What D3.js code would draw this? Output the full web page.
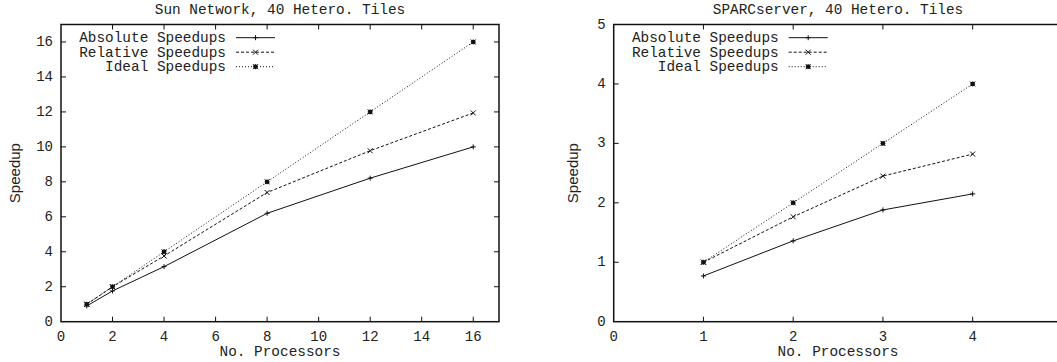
<!DOCTYPE html>
<html>
<head>
<meta charset="utf-8">
<script src="https://cdn.jsdelivr.net/npm/d3@7"></script>
<style>
  html, body { margin: 0; padding: 0; background: #fff; }
  svg { display: block; }
</style>
</head>
<body>
<div id="chart"></div>
<script>
const INK = '#111';
const MONO = '"Liberation Mono", "Courier New", "DejaVu Sans Mono", monospace';

// left panel: Sun Network
const sunProcs = [1, 2, 4, 8, 12, 16];
const sunAbsolute = [0.9, 1.76, 3.15, 6.2, 8.21, 10.0];
const sunRelative = [1.0, 2.0, 3.76, 7.39, 9.78, 11.94];
const sunIdeal = [1, 2, 4, 8, 12, 16];
const sunXTicks = [0, 2, 4, 6, 8, 10, 12, 14, 16];
const sunYTicks = [0, 2, 4, 6, 8, 10, 12, 14, 16];

// right panel: SPARCserver
const sparcProcs = [1, 2, 3, 4];
const sparcAbsolute = [0.77, 1.36, 1.88, 2.15];
const sparcRelative = [1.0, 1.765, 2.45, 2.82];
const sparcIdeal = [1, 2, 3, 4];
const sparcXTicks = [0, 1, 2, 3, 4];
const sparcYTicks = [0, 1, 2, 3, 4, 5];

const seriesNames = ['Absolute Speedups', 'Relative Speedups', 'Ideal Speedups'];
const seriesDash = [null, '3,2', '1,2'];
const seriesMark = ['plus', 'cross', 'star'];

const svg = d3.select('#chart').append('svg')
  .attr('width', 1057)
  .attr('height', 362)
  .style('font-family', MONO);

const drawMark = (g, kind, cx, cy) => {
  const s = 2.5;
  if (kind === 'plus' || kind === 'star') {
    g.append('line').attr('x1', cx - s).attr('x2', cx + s).attr('y1', cy).attr('y2', cy);
    g.append('line').attr('x1', cx).attr('x2', cx).attr('y1', cy - s).attr('y2', cy + s);
  }
  if (kind === 'cross' || kind === 'star') {
    g.append('line').attr('x1', cx - s).attr('x2', cx + s).attr('y1', cy - s).attr('y2', cy + s);
    g.append('line').attr('x1', cx - s).attr('x2', cx + s).attr('y1', cy + s).attr('y2', cy - s);
  }
  if (kind === 'star') {
    g.append('rect').attr('x', cx - 2).attr('y', cy - 2).attr('width', 4).attr('height', 4)
      .attr('fill', INK).attr('stroke', 'none');
  }
};

const addText = (g, txt, size) => g.append('text')
  .style('font-family', MONO)
  .attr('font-size', size)
  .attr('fill', '#222')
  .text(txt);

const drawPanel = (cfg) => {
  const g = svg.append('g');
  const x = d3.scaleLinear().domain(cfg.xDomain).range([cfg.left, cfg.right]);
  const y = d3.scaleLinear().domain(cfg.yDomain).range([cfg.bottom, cfg.top]);

  // ticks, gnuplot style (inward, mirrored)
  const tickLen = 5;
  const ticks = g.append('g').attr('stroke', INK).attr('stroke-width', 1);
  cfg.xTicks.forEach((t) => {
    if (t === cfg.xDomain[0]) return;
    ticks.append('line').attr('x1', x(t)).attr('x2', x(t)).attr('y1', cfg.bottom).attr('y2', cfg.bottom - tickLen);
    ticks.append('line').attr('x1', x(t)).attr('x2', x(t)).attr('y1', cfg.top).attr('y2', cfg.top + tickLen);
  });
  cfg.yTicks.forEach((t) => {
    if (t === cfg.yDomain[0]) return;
    ticks.append('line').attr('x1', cfg.left).attr('x2', cfg.left + tickLen).attr('y1', y(t)).attr('y2', y(t));
    ticks.append('line').attr('x1', cfg.right).attr('x2', cfg.right - tickLen).attr('y1', y(t)).attr('y2', y(t));
  });

  // frame
  g.append('rect')
    .attr('x', cfg.left).attr('y', cfg.top)
    .attr('width', cfg.right - cfg.left).attr('height', cfg.bottom - cfg.top)
    .attr('fill', 'none').attr('stroke', INK).attr('stroke-width', 1.5);

  // tick labels
  cfg.xTicks.forEach((t) => {
    addText(g, t, 14).attr('x', x(t)).attr('y', cfg.bottom + 19).attr('text-anchor', 'middle');
  });
  cfg.yTicks.forEach((t) => {
    addText(g, t, 14).attr('x', cfg.left - 8).attr('y', y(t) + 4).attr('text-anchor', 'end');
  });

  // titles
  const mid = (cfg.left + cfg.titleRight) / 2;
  addText(g, cfg.title, 14.4).attr('x', mid).attr('y', 14).attr('text-anchor', 'middle');
  addText(g, 'No. Processors', 14.4).attr('x', mid).attr('y', 356).attr('text-anchor', 'middle');
  g.append('text')
    .attr('transform', 'translate(' + cfg.yLabelX + ',' + (cfg.top + cfg.bottom) / 2 + ') rotate(-90)')
    .attr('text-anchor', 'middle').attr('font-size', 15).attr('fill', '#222')
    .style('font-family', '"Liberation Sans", Arial, sans-serif')
    .text('Speedup');

  // series
  const line = d3.line().x((d) => x(d[0])).y((d) => y(d[1]));
  cfg.series.forEach((vals, i) => {
    const pts = cfg.procs.map((p, k) => [p, vals[k]]);
    g.append('path')
      .attr('d', line(pts))
      .attr('fill', 'none').attr('stroke', INK).attr('stroke-width', 1)
      .attr('stroke-dasharray', seriesDash[i]);
    const mg = g.append('g').attr('stroke', INK).attr('stroke-width', 1);
    pts.forEach((p) => drawMark(mg, seriesMark[i], x(p[0]), y(p[1])));
  });

  // legend
  const legTextX = cfg.left + 165;
  seriesNames.forEach((name, i) => {
    const ly = 37.7 + i * 14.5;
    addText(g, name, 14.4).attr('x', legTextX).attr('y', ly + 4.5).attr('text-anchor', 'end');
    g.append('line')
      .attr('x1', legTextX + 10).attr('x2', legTextX + 49)
      .attr('y1', ly).attr('y2', ly)
      .attr('stroke', INK).attr('stroke-width', 1)
      .attr('stroke-dasharray', seriesDash[i]);
    const mg = g.append('g').attr('stroke', INK).attr('stroke-width', 1);
    drawMark(mg, seriesMark[i], legTextX + 29.5, ly);
  });
};

drawPanel({
  title: 'Sun Network, 40 Hetero. Tiles',
  left: 61, right: 499, top: 24.5, bottom: 321.7, titleRight: 499,
  yLabelX: 20,
  xDomain: [0, 17], yDomain: [0, 17],
  xTicks: sunXTicks, yTicks: sunYTicks,
  procs: sunProcs,
  series: [sunAbsolute, sunRelative, sunIdeal]
});

drawPanel({
  title: 'SPARCserver, 40 Hetero. Tiles',
  left: 613.7, right: 1062.4, top: 24.5, bottom: 321.7, titleRight: 1062.4,
  yLabelX: 578,
  xDomain: [0, 5], yDomain: [0, 5],
  xTicks: sparcXTicks, yTicks: sparcYTicks,
  procs: sparcProcs,
  series: [sparcAbsolute, sparcRelative, sparcIdeal]
});
</script>
</body>
</html>
